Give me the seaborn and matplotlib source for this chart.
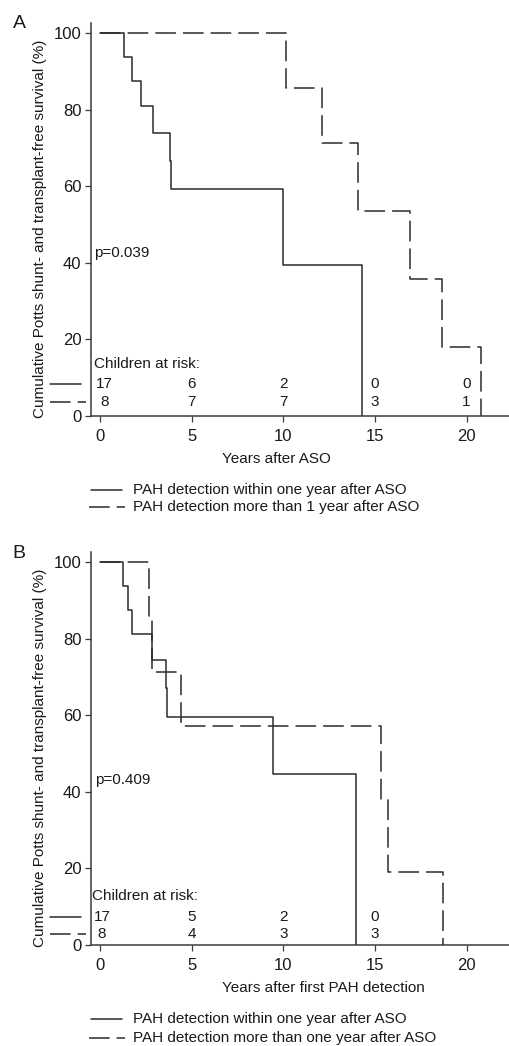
import numpy as np
import pandas as pd
import matplotlib
matplotlib.use("Agg")
import matplotlib.pyplot as plt
from matplotlib.lines import Line2D
import seaborn as sns

# ---------------- data ----------------
# Panel A: years after ASO
a_within_t = [0, 1.31, 1.75, 2.26, 2.91, 3.84, 3.89, 10.0, 14.3]
a_within_s = [100, 93.75, 87.5, 80.9, 74.0, 66.7, 59.3, 39.5, 0]
a_later_t = [0, 10.15, 12.1, 14.05, 16.9, 18.65, 20.77]
a_later_s = [100, 85.7, 71.4, 53.6, 35.7, 17.9, 0]
a_risk_times = [0, 5, 10, 15, 20]
a_risk_within = [17, 6, 2, 0, 0]
a_risk_later = [8, 7, 7, 3, 1]
a_pvalue = "p=0.039"
a_xlabel = "Years after ASO"
a_leg = ["PAH detection within one year after ASO",
         "PAH detection more than 1 year after ASO"]

# Panel B: years after first PAH detection
b_within_t = [0, 1.25, 1.55, 1.73, 2.82, 3.58, 3.66, 9.42, 13.98]
b_within_s = [100, 93.75, 87.5, 81.25, 74.5, 67.0, 59.6, 44.7, 0]
b_later_t = [0, 2.67, 2.86, 4.42, 15.32, 15.71, 18.73]
b_later_s = [100, 85.7, 71.4, 57.1, 38.1, 19.0, 0]
b_risk_times = [0, 5, 10, 15]
b_risk_within = [17, 5, 2, 0]
b_risk_later = [8, 4, 3, 3]
b_pvalue = "p=0.409"
b_xlabel = "Years after first PAH detection"
b_leg = ["PAH detection within one year after ASO",
         "PAH detection more than one year after ASO"]

ylabel = "Cumulative Potts shunt- and transplant-free survival (%)"
xticks = [0, 5, 10, 15, 20]
yticks = [0, 20, 40, 60, 80, 100]

# ---------------- style ----------------
sns.set_theme(style="white")
plt.rcParams["font.family"] = ["Liberation Sans", "DejaVu Sans"]
FS = 11
TFS = 12
TXT = "#1a1a1a"
LC = "#2b2b2b"
LW = 1.1
DASH = (0, (13.5, 4.6))

W, H = 510, 1046
fig = plt.figure(figsize=(W / 100, H / 100), dpi=100)


def fx(px):
    return px / W


def fy(py):
    return 1 - py / H


def panel(top_px, bot_px, letter, wt, ws, lt, ls, rt, rw, rl, pval, xlabel, leg,
          risk_label_y, row_y, first_off, p_y, risk_x, p_x, leg_y):
    ax = fig.add_axes([fx(91), fy(bot_px), fx(510 - 91), (bot_px - top_px) / H])
    sns.lineplot(x=wt, y=ws, ax=ax, drawstyle="steps-post", estimator=None,
                 sort=False, color=LC, lw=LW)
    sns.lineplot(x=lt, y=ls, ax=ax, drawstyle="steps-post", estimator=None,
                 sort=False, color=LC, lw=LW, linestyle=DASH,
                 dash_capstyle="butt")
    ax.set_xlim(-0.49, 22.37)
    ax.set_ylim(0, 102.6)
    ax.set_xticks(xticks)
    ax.set_yticks(yticks)
    for s in ["top", "right"]:
        ax.spines[s].set_visible(False)
    for s in ["left", "bottom"]:
        ax.spines[s].set_color("#3a3a3a")
        ax.spines[s].set_linewidth(1.1)
    ax.tick_params(axis="both", which="major", length=4.3, width=0.9,
                   color="#3a3a3a", labelsize=TFS, labelcolor=TXT,
                   left=True, bottom=True)
    ax.tick_params(axis="x", pad=5)
    ax.tick_params(axis="y", pad=2.5)
    ax.grid(False)

    ax.set_ylabel(ylabel, fontsize=FS, color=TXT, va="center")
    ax.yaxis.set_label_coords(-0.122, 0.476)
    ax.set_xlabel(xlabel, fontsize=FS, color=TXT, ha="left", va="center")
    ax.xaxis.set_label_coords((222 - 91) / 419, -0.1094)

    ax.text(p_x, p_y, pval, fontsize=FS, color=TXT, ha="left", va="center")
    ax.text(risk_x, risk_label_y, "Children at risk:", fontsize=FS,
            color=TXT, ha="left", va="center")
    for i, (t, n1, n2) in enumerate(zip(rt, rw, rl)):
        xx = t + (first_off if i == 0 else 0)
        ax.text(xx, row_y[0], str(n1), fontsize=FS, color=TXT,
                ha="center", va="center")
        ax.text(xx, row_y[1], str(n2), fontsize=FS, color=TXT,
                ha="center", va="center")

    # row keys left of the axis
    tr = ax.get_yaxis_transform()
    x0 = (50 - 91) / 419
    ax.add_line(Line2D([x0, (81 - 91) / 419], [row_y[0]] * 2, transform=tr,
                       color=LC, lw=LW, clip_on=False))
    ax.add_line(Line2D([x0, (86 - 91) / 419], [row_y[1]] * 2, transform=tr,
                       color=LC, lw=LW, linestyle=DASH, dash_capstyle="butt",
                       clip_on=False))

    # panel letter
    fig.text(fx(19), fy(top_px + 1), letter, fontsize=14, color=TXT,
             ha="center", va="center")

    # legend below
    fig.add_artist(Line2D([fx(91), fx(122)], [fy(leg_y[0])] * 2,
                          transform=fig.transFigure, color=LC, lw=LW))
    fig.add_artist(Line2D([fx(89), fx(125)], [fy(leg_y[1])] * 2,
                          transform=fig.transFigure, color=LC, lw=LW,
                          linestyle=DASH, dash_capstyle="butt"))
    fig.text(fx(133), fy(leg_y[0]), leg[0], fontsize=FS, color=TXT,
             ha="left", va="center")
    fig.text(fx(133), fy(leg_y[1]), leg[1], fontsize=FS, color=TXT,
             ha="left", va="center")
    return ax


panel(23, 416, "A", a_within_t, a_within_s, a_later_t, a_later_s,
      a_risk_times, a_risk_within, a_risk_later, a_pvalue, a_xlabel, a_leg,
      13.6, (8.3, 3.7), 0.25, 42.5, -0.33, -0.33, (490, 506.7))
panel(552, 945, "B", b_within_t, b_within_s, b_later_t, b_later_s,
      b_risk_times, b_risk_within, b_risk_later, b_pvalue, b_xlabel, b_leg,
      12.9, (7.2, 2.8), 0.1, 43.0, -0.45, -0.27, (1019.3, 1037.7))

fig.savefig("out.png", dpi=100)
